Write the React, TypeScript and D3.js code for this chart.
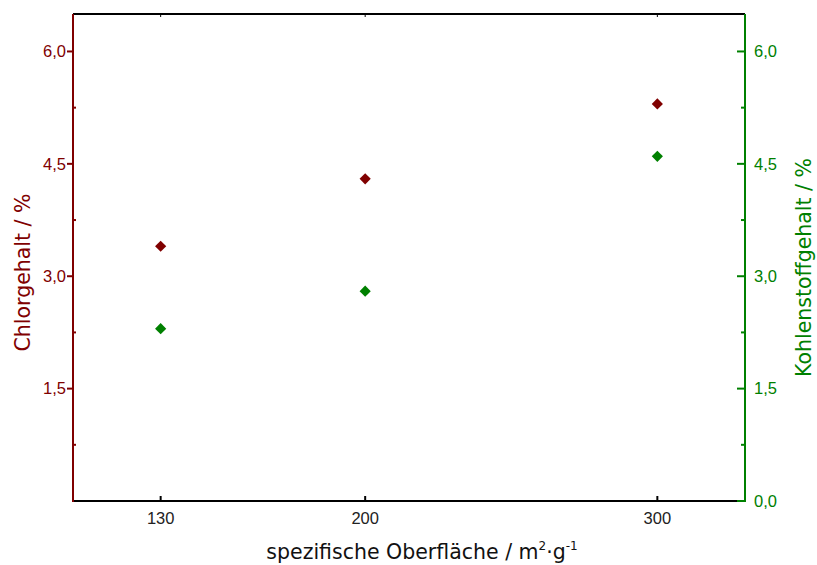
import React from "react";
import * as d3 from "d3";

const categories = [130, 200, 300];
const chlorValues = [3.4, 4.3, 5.3];
const carbonValues = [2.3, 2.8, 4.6];
const xTicks = [130, 200, 300];
const leftTicks = [1.5, 3.0, 4.5, 6.0];
const rightTicks = [0, 1.5, 3.0, 4.5, 6.0];
const minorTicks = [0.75, 2.25, 3.75, 5.25];

const RED = "#800000";
const GREEN = "#008000";

export default function App() {
  const W = 817, H = 565;
  const L = 73, R = 745, T = 14, B = 501;
  const x = d3.scaleLinear().domain([100, 330]).range([L, R]);
  const y = d3.scaleLinear().domain([0, 6.5]).range([B, T]);
  const fmt = (v: number) => v.toFixed(1).replace(".", ",");
  const diamond = d3.symbol().type(d3.symbolDiamond2).size(80)();
  const tickFont = "'Liberation Sans', Arial, sans-serif";
  const titleFont = "'DejaVu Sans', sans-serif";

  return (
    <svg width={W} height={H} style={{ position: "absolute", left: 0, top: 0 }}>
      <rect width={W} height={H} fill="white" />
      {/* frame */}
      <line x1={L} x2={R} y1={T} y2={T} stroke="black" strokeWidth={2} />
      <line x1={L} x2={R} y1={B} y2={B} stroke="black" strokeWidth={2} />
      {/* top ticks */}
      {xTicks.map((t) => (
        <line key={"tt" + t} x1={x(t)} x2={x(t)} y1={T} y2={T + 3} stroke="black" strokeWidth={1} />
      ))}
      {/* bottom ticks and labels */}
      {xTicks.map((t) => (
        <g key={"bt" + t}>
          <line x1={x(t)} x2={x(t)} y1={B} y2={B - 5} stroke="black" strokeWidth={2} />
          <text x={x(t)} y={B + 23} textAnchor="middle" fontFamily={tickFont} fontSize={16.5} fill="#222">
            {t}
          </text>
        </g>
      ))}
      {/* left axis */}
      <line x1={L} x2={L} y1={T} y2={B + 1} stroke={RED} strokeWidth={2} />
      {leftTicks.map((t) => (
        <g key={"lt" + t}>
          <line x1={L - 6} x2={L} y1={y(t)} y2={y(t)} stroke={RED} strokeWidth={2} />
          <text x={L - 7} y={y(t)} dy="0.35em" textAnchor="end" fontFamily={tickFont} fontSize={16.5} fill={RED}>
            {fmt(t)}
          </text>
        </g>
      ))}
      {minorTicks.map((t) => (
        <line key={"lm" + t} x1={L} x2={L + 3} y1={y(t)} y2={y(t)} stroke={RED} strokeWidth={2} />
      ))}
      {/* right axis */}
      <line x1={R} x2={R} y1={T} y2={B + 1} stroke={GREEN} strokeWidth={2} />
      {rightTicks.map((t) => (
        <g key={"rt" + t}>
          <line x1={R - 8} x2={R} y1={y(t)} y2={y(t)} stroke={GREEN} strokeWidth={2} />
          <text x={R + 9} y={y(t)} dy="0.35em" textAnchor="start" fontFamily={tickFont} fontSize={16.5} fill={GREEN}>
            {fmt(t)}
          </text>
        </g>
      ))}
      {minorTicks.map((t) => (
        <line key={"rm" + t} x1={R - 4} x2={R} y1={y(t)} y2={y(t)} stroke={GREEN} strokeWidth={2} />
      ))}
      {/* data */}
      {categories.map((c, i) => (
        <path key={"cl" + c} d={diamond ?? ""} transform={`translate(${x(c)},${y(chlorValues[i])})`} fill={RED} />
      ))}
      {categories.map((c, i) => (
        <path key={"cb" + c} d={diamond ?? ""} transform={`translate(${x(c)},${y(carbonValues[i])})`} fill={GREEN} />
      ))}
      {/* titles */}
      <text
        transform={`translate(30,272.5) rotate(-90)`}
        textAnchor="middle"
        fontFamily={titleFont}
        fontSize={20.5}
        fill={RED}
      >
        Chlorgehalt / %
      </text>
      <text
        transform={`translate(811,267.5) rotate(-90)`}
        textAnchor="middle"
        fontFamily={titleFont}
        fontSize={20.5}
        fill={GREEN}
      >
        Kohlenstoffgehalt / %
      </text>
      <text x={422} y={559} textAnchor="middle" fontFamily={titleFont} fontSize={20.5} fill="#111">
        spezifische Oberfläche / m<tspan dy={-9} fontSize={12}>2</tspan>
        <tspan dy={9}>·g</tspan>
        <tspan dy={-9} fontSize={12}>-1</tspan>
      </text>
    </svg>
  );
}
